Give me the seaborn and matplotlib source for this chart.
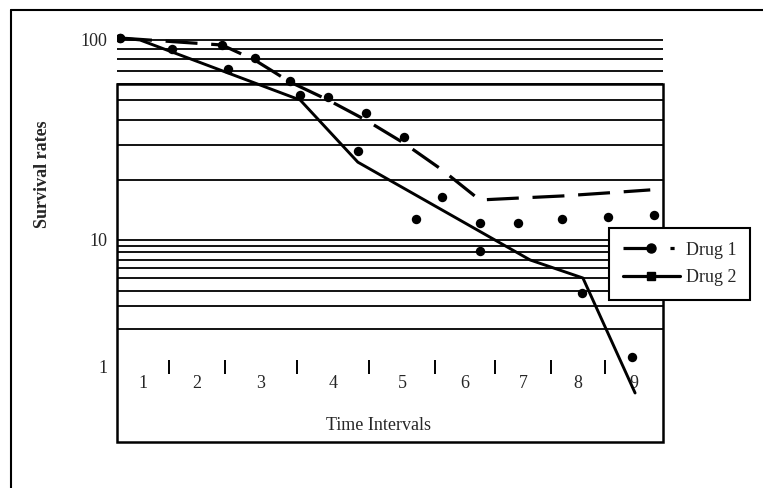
import numpy as np
import pandas as pd
import matplotlib
matplotlib.use("Agg")
import matplotlib.pyplot as plt
import seaborn as sns
from matplotlib.lines import Line2D
from matplotlib.patches import Rectangle
from matplotlib.ticker import FixedLocator, NullFormatter, FixedFormatter

# ---------------- data ----------------
drug1_line_t = [0.05, 1.73, 2.27, 2.85, 3.48, 4.10, 4.73, 5.36, 5.98, 6.61, 7.34, 8.09, 8.79]
drug1_line_rate = [102.3, 94.4, 79.4, 61.7, 50.1, 39.8, 30.5, 22.4, 15.85, 16.2, 16.6, 17.2, 17.8]

drug1_point_t = [0.05, 1.73, 2.27, 2.85, 3.48, 4.10, 4.73, 5.36, 5.98, 6.61, 7.34, 8.09, 8.85]
drug1_point_rate = [102.3, 94.4, 81.3, 62.4, 51.9, 43.2, 32.7, 16.4, 12.2, 12.2, 12.7, 13.0, 13.3]

drug2_line_t = [0.05, 0.38, 3.02, 3.97, 6.81, 7.68, 8.54]
drug2_line_rate = [102.3, 100.0, 50.1, 24.5, 6.96, 5.02, 0.624]

drug2_point_t = [0.05, 0.91, 1.83, 3.02, 3.97, 4.93, 5.98, 7.66, 8.49]
drug2_point_rate = [102.3, 90.2, 71.6, 53.1, 27.9, 12.7, 8.19, 3.83, 1.20]

interval_edges = [0.0, 0.857, 1.78, 2.967, 4.154, 5.242, 6.231, 7.154, 8.044, 9.0]
interval_labels = ["1", "2", "3", "4", "5", "6", "7", "8", "9"]

y_tick_values = [1, 10, 100]
y_tick_labels = ["1", "10", "100"]
grid_values = [2, 3, 4, 5, 6, 7, 8, 9, 10, 20, 30, 40, 50, 60, 70, 80, 90, 100]
box_top_value = 60

# ---------------- style ----------------
sns.set_style("white")
plt.rcParams["font.family"] = ["Liberation Serif", "DejaVu Serif"]
plt.rcParams["font.size"] = 13

W, H = 763, 488
fig = plt.figure(figsize=(W / 100, H / 100), dpi=100)


def fx(px):
    return px / W


def fy(py):
    return 1 - py / H


ax = fig.add_axes([fx(117), fy(442), fx(663) - fx(117), fy(25) - fy(442)])

# log-like survival scale (the lower decade is drawn compressed, as in the original)
K = 127 / 200


def fwd(v):
    v = np.asarray(v, dtype=float)
    lv = np.log10(np.clip(v, 1e-12, None))
    return np.where(lv >= 1, lv, 1 + (lv - 1) * K)


def inv(f):
    f = np.asarray(f, dtype=float)
    return np.where(f >= 1, 10 ** f, 10 ** (1 + (f - 1) / K))


d1_line = pd.DataFrame({"t": drug1_line_t, "rate": drug1_line_rate})
d1_pts = pd.DataFrame({"t": drug1_point_t, "rate": drug1_point_rate})
d2_line = pd.DataFrame({"t": drug2_line_t, "rate": drug2_line_rate})
d2_pts = pd.DataFrame({"t": drug2_point_t, "rate": drug2_point_rate})

ax.set_yscale("function", functions=(fwd, inv))

sns.lineplot(data=d2_line, x="t", y="rate", ax=ax, color="black", linewidth=2.1,
             sort=False, estimator=None, zorder=4)
sns.lineplot(data=d1_line, x="t", y="rate", ax=ax, color="black", linewidth=2.3,
             linestyle=(0, (10, 4.3)), sort=False, estimator=None, zorder=4)
sns.scatterplot(data=d1_pts, x="t", y="rate", ax=ax, color="black", s=46,
                linewidth=0, marker="o", zorder=5)
sns.scatterplot(data=d2_pts, x="t", y="rate", ax=ax, color="black", s=46,
                linewidth=0, marker="o", zorder=5)

ax.set_xlim(0, 9)
ax.set_ylim(0.2566, 118.85)

for s in ax.spines.values():
    s.set_visible(False)
ax.spines["bottom"].set_position(("data", 1))

# y axis: labels and gridlines
ax.yaxis.remove_overlapping_locs = False
ax.yaxis.set_major_locator(FixedLocator(y_tick_values))
ax.yaxis.set_major_formatter(FixedFormatter(y_tick_labels))
ax.yaxis.set_minor_locator(FixedLocator(grid_values))
ax.yaxis.set_minor_formatter(NullFormatter())
ax.xaxis.grid(False, which="both")
ax.yaxis.grid(False, which="major")
ax.yaxis.grid(True, which="minor", color="black", linewidth=1.3)
ax.tick_params(axis="y", which="both", left=True, length=0, pad=7, labelsize=13)

# x axis: boundary marks and centred interval numbers
mids = [(a + b) / 2 for a, b in zip(interval_edges[:-1], interval_edges[1:])]
ax.xaxis.set_major_locator(FixedLocator(interval_edges[1:-1]))
ax.xaxis.set_major_formatter(NullFormatter())
ax.xaxis.set_minor_locator(FixedLocator(mids))
ax.xaxis.set_minor_formatter(FixedFormatter(interval_labels))
ax.tick_params(axis="x", which="major", bottom=True, direction="inout", length=10,
               width=1.4, color="black")
ax.tick_params(axis="x", which="minor", bottom=True, length=0, pad=6, labelsize=13)

# plot-area frame (x in axes fraction, y in data)
ybot = ax.get_ylim()[0]
ax.add_patch(Rectangle((0, ybot), 1, box_top_value - ybot, transform=ax.get_yaxis_transform(),
                       fill=False, edgecolor="black", linewidth=1.8, clip_on=False, zorder=3))

ax.set_xlabel("Time Intervals", fontsize=13)
ax.xaxis.set_label_coords((378 - 117) / 546, (442 - 425) / 417)
ax.xaxis.label.set_verticalalignment("center")
ax.set_ylabel("Survival rates", fontsize=13, fontweight="bold")
ax.yaxis.set_label_coords((43 - 117) / 546, (442 - 174) / 417)
ax.yaxis.label.set_verticalalignment("center")

# legend
h1 = Line2D([], [], color="black", linewidth=2.3, linestyle=(0, (10, 4.7, 1.3, 4.7)),
            marker="o", markersize=6.5)
h2 = Line2D([], [], color="black", linewidth=2.3, marker="s", markersize=6)
leg = ax.legend([h1, h2], ["Drug 1", "Drug 2"], loc="upper left",
                bbox_to_anchor=(fx(609), fy(228)), bbox_transform=fig.transFigure,
                borderaxespad=0, borderpad=0.75, labelspacing=0.6, handlelength=3.2,
                handletextpad=0.3, fancybox=False, framealpha=1, fontsize=13)
leg.get_frame().set_edgecolor("black")
leg.get_frame().set_linewidth(1.5)
leg.set_zorder(10)

# outer border (left and top edges)
fig.add_artist(Line2D([fx(11), 1.0], [fy(10), fy(10)], transform=fig.transFigure,
                      color="black", linewidth=1.5))
fig.add_artist(Line2D([fx(11), fx(11)], [fy(10), 0.0], transform=fig.transFigure,
                      color="black", linewidth=1.5))

fig.savefig("out.png", dpi=100)
